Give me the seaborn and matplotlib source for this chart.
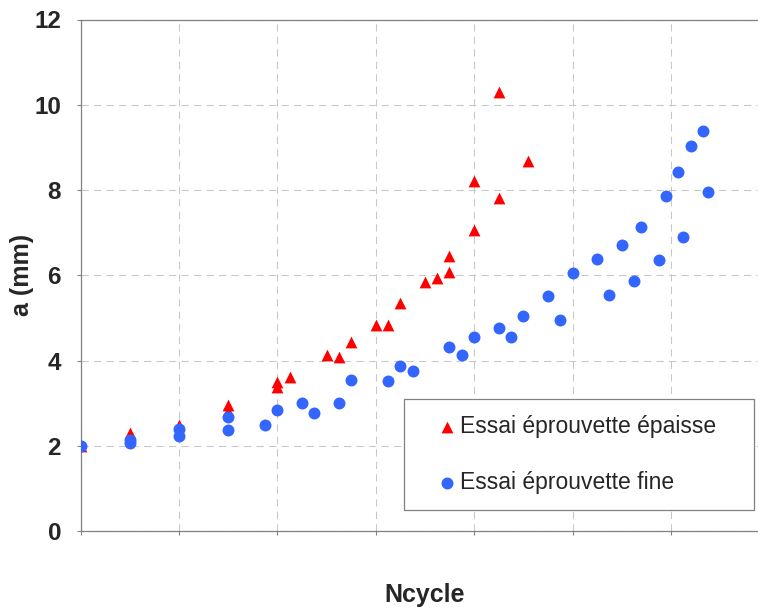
import matplotlib
matplotlib.use("Agg")
import matplotlib.pyplot as plt
import seaborn as sns

# ---- data ----
thick_x = [0.0, 0.5, 1.0, 1.5, 1.5, 2.0, 2.0, 2.125, 2.5, 2.625, 2.75, 3.0, 3.125,
           3.25, 3.5, 3.625, 3.75, 3.75, 4.0, 4.0, 4.25, 4.25, 4.55]
thick_a = [2.0, 2.3, 2.48, 2.95, 2.82, 3.50, 3.37, 3.62, 4.13, 4.08, 4.43, 4.84, 4.84,
           5.36, 5.83, 5.93, 6.07, 6.46, 7.05, 8.22, 7.81, 10.31, 8.67]

thin_x = [0.0, 0.5, 0.5, 1.0, 1.0, 1.5, 1.5, 1.875, 2.0, 2.25, 2.375, 2.625, 2.75,
          3.125, 3.25, 3.375, 3.75, 3.875, 4.0, 4.25, 4.375, 4.5, 4.75, 4.875, 5.0,
          5.25, 5.375, 5.5, 5.625, 5.7, 5.875, 5.95, 6.07, 6.125, 6.2, 6.325, 6.375]
thin_a = [2.0, 2.13, 2.06, 2.40, 2.23, 2.67, 2.38, 2.49, 2.84, 3.0, 2.76, 3.0, 3.54,
          3.51, 3.88, 3.76, 4.31, 4.14, 4.54, 4.77, 4.54, 5.05, 5.52, 4.95, 6.05,
          6.38, 5.54, 6.70, 5.87, 7.14, 6.36, 7.85, 8.42, 6.89, 9.04, 9.38, 7.96]

label_thick = "Essai éprouvette épaisse"
label_thin = "Essai éprouvette fine"
x_label = "Ncycle"
y_label = "a (mm)"
y_ticks = [0, 2, 4, 6, 8, 10, 12]
x_ticks = [0, 1, 2, 3, 4, 5, 6, 7]

sns.set_style("white")
plt.rcParams["font.family"] = ["Liberation Sans", "DejaVu Sans"]

W, H = 758, 609
fig = plt.figure(figsize=(W / 100, H / 100), dpi=100)
ax = fig.add_axes([80.5 / W, 78 / H, 688.8 / W, 511.5 / H])

sns.scatterplot(x=thick_x, y=thick_a, marker="^", color="#FF0000", s=72,
                linewidth=0, label=label_thick, ax=ax, zorder=3)
sns.scatterplot(x=thin_x, y=thin_a, marker="o", color="#3366FF", s=74,
                linewidth=0, label=label_thin, ax=ax, zorder=3)

ax.set_xlim(0, 7)
ax.set_ylim(0, 12)
ax.set_xticks(x_ticks)
ax.set_yticks(y_ticks)
ax.set_xticklabels([])
ax.set_yticklabels([str(t) for t in y_ticks], fontsize=17.5, fontweight="bold")

ax.grid(True, color="#C8C8C8", linestyle=(0, (7, 5)), linewidth=0.75)
ax.set_axisbelow(True)

for side in ["left", "bottom", "top"]:
    ax.spines[side].set_color("#808080")
    ax.spines[side].set_linewidth(0.9)
ax.spines["right"].set_visible(False)

ax.tick_params(axis="both", which="both", direction="out", length=3,
               color="#808080", width=0.8, pad=11, left=True, bottom=True)

ax.set_xlabel(x_label, fontsize=18, fontweight="bold")
ax.set_ylabel(y_label, fontsize=18, fontweight="bold")
ax.xaxis.set_label_coords(0.5, -0.125)
ax.xaxis.label.set_verticalalignment("center")
ax.yaxis.set_label_coords(-0.085, 0.5)
ax.yaxis.label.set_verticalalignment("center")

leg = ax.legend(loc="lower left",
                bbox_to_anchor=(0.4692, 0.0411, 0.5086, 0.2312),
                mode="expand", borderaxespad=0, fontsize=16.5,
                borderpad=0.7, labelspacing=1.45, handlelength=2.37,
                handletextpad=-0.6, fancybox=False, framealpha=1,
                edgecolor="#808080")
leg.get_frame().set_linewidth(0.9)

fig.savefig("out.png", dpi=100)
